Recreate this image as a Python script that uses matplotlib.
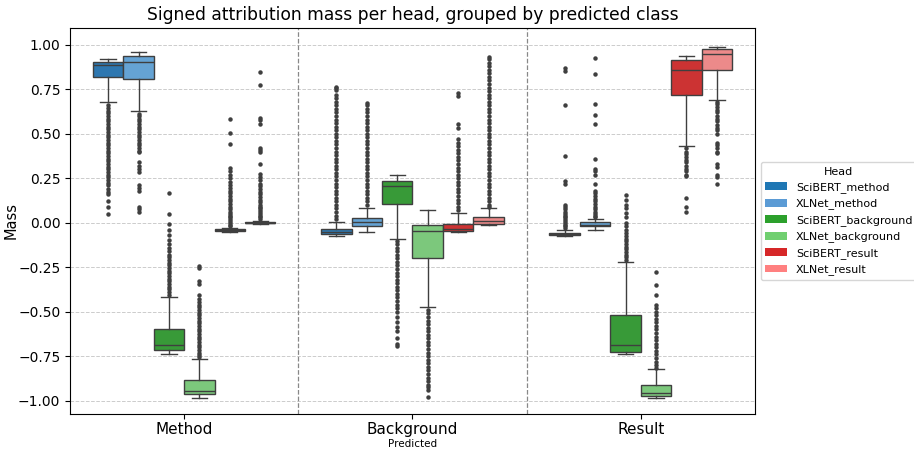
import matplotlib
matplotlib.use("Agg")
import matplotlib.pyplot as plt
from matplotlib.patches import Patch

groups = ["Method", "Background", "Result"]
heads = ["SciBERT_method", "XLNet_method", "SciBERT_background",
         "XLNet_background", "SciBERT_result", "XLNet_result"]
box_colors = ["#2e77b0", "#65a3d4", "#389a38", "#7cc87c", "#cc3333", "#ec8a8a"]
legend_colors = ["#1f77b4", "#5b9bd5", "#2ca02c", "#70cf70", "#d62728", "#ff8080"]

# stats per group: lists ordered by heads
method_q1 = [0.82, 0.81, -0.715, -0.964, -0.048, -0.004]
method_med = [0.885, 0.905, -0.685, -0.944, -0.043, -0.001]
method_q3 = [0.905, 0.935, -0.60, -0.886, -0.038, 0.003]
method_lo = [0.68, 0.63, -0.735, -0.983, -0.052, -0.008]
method_hi = [0.92, 0.96, -0.42, -0.766, -0.03, 0.012]

background_q1 = [-0.065, -0.017, 0.103, -0.198, -0.045, -0.006]
background_med = [-0.05, 0.004, 0.208, -0.049, -0.035, 0.012]
background_q3 = [-0.035, 0.024, 0.232, -0.011, -0.006, 0.03]
background_lo = [-0.077, -0.052, -0.09, -0.474, -0.05, -0.01]
background_hi = [0.006, 0.083, 0.268, 0.073, 0.052, 0.08]

result_q1 = [-0.071, -0.02, -0.728, -0.976, 0.719, 0.86]
result_med = [-0.064, -0.01, -0.689, -0.957, 0.86, 0.949]
result_q3 = [-0.058, 0.002, -0.52, -0.91, 0.912, 0.976]
result_lo = [-0.073, -0.04, -0.736, -0.983, 0.433, 0.691]
result_hi = [-0.04, 0.02, -0.223, -0.822, 0.938, 0.99]

# outliers
fl_method_scibert_method = [0.66, 0.645, 0.63, 0.615, 0.60, 0.585, 0.57, 0.555, 0.54, 0.525,
                            0.51, 0.495, 0.48, 0.465, 0.45, 0.435, 0.42, 0.405, 0.39, 0.375,
                            0.36, 0.345, 0.33, 0.315, 0.30, 0.285, 0.27, 0.255, 0.24, 0.225,
                            0.21, 0.19, 0.17, 0.16, 0.12, 0.09, 0.05]
fl_method_xlnet_method = [0.61, 0.60, 0.585, 0.57, 0.555, 0.54, 0.525, 0.51, 0.495, 0.48,
                          0.465, 0.45, 0.435, 0.42, 0.405, 0.40, 0.34, 0.32, 0.30, 0.285,
                          0.21, 0.195, 0.18, 0.09, 0.075, 0.06]
fl_method_scibert_background = [0.167, 0.05, -0.005, -0.04, -0.07, -0.095, -0.12, -0.14, -0.16,
                                -0.18, -0.195, -0.21, -0.225, -0.24, -0.255, -0.27, -0.285,
                                -0.30, -0.315, -0.33, -0.345, -0.36, -0.375, -0.39, -0.405]
fl_method_xlnet_background = [-0.245, -0.255, -0.33, -0.345, -0.405, -0.43, -0.445, -0.46,
                              -0.475, -0.49, -0.505, -0.52, -0.535, -0.55, -0.565, -0.58,
                              -0.595, -0.61, -0.625, -0.64, -0.655, -0.67, -0.685, -0.70,
                              -0.715, -0.73, -0.745, -0.755]
fl_method_scibert_result = [0.585, 0.505, 0.445, 0.31, 0.29, 0.27, 0.25, 0.23, 0.21, 0.195,
                            0.18, 0.165, 0.15, 0.135, 0.12, 0.105, 0.09, 0.075, 0.06, 0.05,
                            0.04, 0.03, 0.02, 0.01, 0.0, -0.01, -0.02]
fl_method_xlnet_result = [0.845, 0.775, 0.59, 0.575, 0.555, 0.42, 0.41, 0.40, 0.33, 0.275,
                          0.255, 0.24, 0.22, 0.205, 0.19, 0.175, 0.16, 0.145, 0.13, 0.115,
                          0.10, 0.09, 0.08, 0.07, 0.06, 0.05, 0.04, 0.03, 0.02]

fl_background_scibert_method = [0.765, 0.755, 0.745, 0.72, 0.70, 0.68, 0.66, 0.64, 0.62, 0.60,
                                0.58, 0.56, 0.54, 0.52, 0.50, 0.48, 0.46, 0.44, 0.42, 0.40,
                                0.38, 0.36, 0.34, 0.32, 0.30, 0.28, 0.26, 0.24, 0.22, 0.20,
                                0.18, 0.16, 0.14, 0.12, 0.10, 0.08, 0.06, 0.04, 0.02]
fl_background_xlnet_method = [0.672, 0.66, 0.64, 0.62, 0.60, 0.58, 0.56, 0.54, 0.52, 0.50,
                              0.48, 0.46, 0.44, 0.42, 0.40, 0.38, 0.36, 0.34, 0.32, 0.30,
                              0.28, 0.26, 0.24, 0.22, 0.20, 0.18, 0.16, 0.14, 0.12, 0.10]
fl_background_scibert_background = [-0.10, -0.12, -0.14, -0.16, -0.18, -0.20, -0.22, -0.24,
                                    -0.26, -0.28, -0.30, -0.32, -0.34, -0.36, -0.38, -0.40,
                                    -0.42, -0.44, -0.46, -0.48, -0.50, -0.53, -0.56, -0.585,
                                    -0.61, -0.65, -0.68, -0.695]
fl_background_xlnet_background = [-0.49, -0.51, -0.53, -0.55, -0.57, -0.59, -0.61, -0.63,
                                  -0.65, -0.67, -0.69, -0.71, -0.73, -0.75, -0.77, -0.79,
                                  -0.81, -0.83, -0.85, -0.87, -0.89, -0.91, -0.925, -0.938,
                                  -0.98]
fl_background_scibert_result = [0.728, 0.71, 0.555, 0.53, 0.47, 0.45, 0.43, 0.41, 0.39, 0.37,
                                0.35, 0.33, 0.31, 0.29, 0.27, 0.25, 0.23, 0.21, 0.19, 0.17,
                                0.15, 0.13, 0.11, 0.09, 0.07]
fl_background_xlnet_result = [0.934, 0.92, 0.90, 0.88, 0.86, 0.84, 0.82, 0.80, 0.78, 0.76,
                              0.74, 0.72, 0.70, 0.68, 0.66, 0.64, 0.62, 0.60, 0.58, 0.56,
                              0.54, 0.52, 0.50, 0.48, 0.46, 0.44, 0.42, 0.40, 0.38, 0.36,
                              0.34, 0.32, 0.30, 0.28, 0.26, 0.24, 0.22, 0.20, 0.18, 0.16,
                              0.14, 0.12, 0.10, 0.09]

fl_result_scibert_method = [0.87, 0.855, 0.66, 0.375, 0.235, 0.215, 0.10, 0.09, 0.075, 0.06,
                            0.05, 0.04, 0.03, 0.02, 0.01, 0.0, -0.01, -0.02, -0.03]
fl_result_xlnet_method = [0.928, 0.837, 0.668, 0.603, 0.555, 0.36, 0.30, 0.29, 0.27, 0.22,
                          0.18, 0.165, 0.15, 0.135, 0.12, 0.105, 0.09, 0.075, 0.06, 0.05,
                          0.04, 0.03]
fl_result_scibert_background = [0.157, 0.13, 0.10, 0.08, 0.055, 0.03, 0.0, -0.02, -0.04, -0.06,
                                -0.075, -0.09, -0.105, -0.12, -0.135, -0.15, -0.165, -0.18,
                                -0.195, -0.21]
fl_result_xlnet_background = [-0.277, -0.352, -0.408, -0.46, -0.48, -0.50, -0.52, -0.54, -0.56,
                              -0.58, -0.60, -0.62, -0.64, -0.66, -0.68, -0.70, -0.72, -0.74,
                              -0.76, -0.78, -0.80, -0.815]
fl_result_scibert_result = [0.42, 0.40, 0.385, 0.37, 0.355, 0.34, 0.32, 0.30, 0.29, 0.27,
                            0.26, 0.14, 0.088, 0.06]
fl_result_xlnet_result = [0.68, 0.665, 0.65, 0.635, 0.62, 0.60, 0.585, 0.57, 0.55, 0.535,
                          0.52, 0.50, 0.45, 0.435, 0.42, 0.40, 0.39, 0.33, 0.315, 0.27,
                          0.255, 0.22]

group_stats = [
    (method_q1, method_med, method_q3, method_lo, method_hi,
     [fl_method_scibert_method, fl_method_xlnet_method, fl_method_scibert_background,
      fl_method_xlnet_background, fl_method_scibert_result, fl_method_xlnet_result]),
    (background_q1, background_med, background_q3, background_lo, background_hi,
     [fl_background_scibert_method, fl_background_xlnet_method, fl_background_scibert_background,
      fl_background_xlnet_background, fl_background_scibert_result, fl_background_xlnet_result]),
    (result_q1, result_med, result_q3, result_lo, result_hi,
     [fl_result_scibert_method, fl_result_xlnet_method, fl_result_scibert_background,
      fl_result_xlnet_background, fl_result_scibert_result, fl_result_xlnet_result]),
]

fig = plt.figure(figsize=(9.14, 4.5), dpi=100)
ax = fig.add_axes([0.0766, 0.08, 0.7494, 0.858])

n = len(heads)
bw = 0.8 / n
edge = "#3f3f3f"
for gi, (q1, med, q3, lo, hi, fls) in enumerate(group_stats):
    for hi_idx in range(n):
        pos = gi - 0.4 + bw * (hi_idx + 0.5)
        st = dict(q1=q1[hi_idx], med=med[hi_idx], q3=q3[hi_idx],
                  whislo=lo[hi_idx], whishi=hi[hi_idx], fliers=fls[hi_idx])
        ax.bxp([st], positions=[pos], widths=bw, capwidths=bw / 2,
               patch_artist=True, showfliers=True,
               boxprops=dict(facecolor=box_colors[hi_idx], edgecolor=edge, linewidth=1.0),
               medianprops=dict(color=edge, linewidth=1.0),
               whiskerprops=dict(color=edge, linewidth=1.0),
               capprops=dict(color=edge, linewidth=1.0),
               flierprops=dict(marker="o", markersize=2.2, markerfacecolor=edge,
                               markeredgecolor=edge, linestyle="none"),
               manage_ticks=False, zorder=3)

ax.set_xlim(-0.5, 2.5)
ax.set_ylim(-1.075, 1.095)
ax.set_xticks(range(len(groups)))
ax.set_xticklabels(groups, fontsize=11)
ax.tick_params(axis="x", pad=2.5)
ax.set_yticks([-1.0, -0.75, -0.5, -0.25, 0.0, 0.25, 0.5, 0.75, 1.0])
ax.set_yticklabels(["−1.00", "−0.75", "−0.50", "−0.25", "0.00", "0.25", "0.50", "0.75", "1.00"],
                   fontsize=10)
ax.yaxis.grid(True, linestyle="--", color="#cccccc", linewidth=0.7, zorder=0)
ax.set_axisbelow(True)
for b in [0.5, 1.5]:
    ax.axvline(b, color="#888888", linestyle="--", linewidth=0.9, zorder=1)

ax.set_title("Signed attribution mass per head, grouped by predicted class", fontsize=12.3)
ax.set_ylabel("Mass", fontsize=10.5)
ax.yaxis.set_label_coords(-0.075, 0.5)
ax.set_xlabel("Predicted", fontsize=7.5)
ax.xaxis.set_label_coords(0.5, -0.066)

handles = [Patch(facecolor=c, edgecolor="none", label=h) for c, h in zip(legend_colors, heads)]
ax.legend(handles=handles, title="Head", loc="center left", bbox_to_anchor=(1.0, 0.5),
          fontsize=8, title_fontsize=8, borderaxespad=0.5, handlelength=2.0)

fig.savefig("out.png", dpi=100)
